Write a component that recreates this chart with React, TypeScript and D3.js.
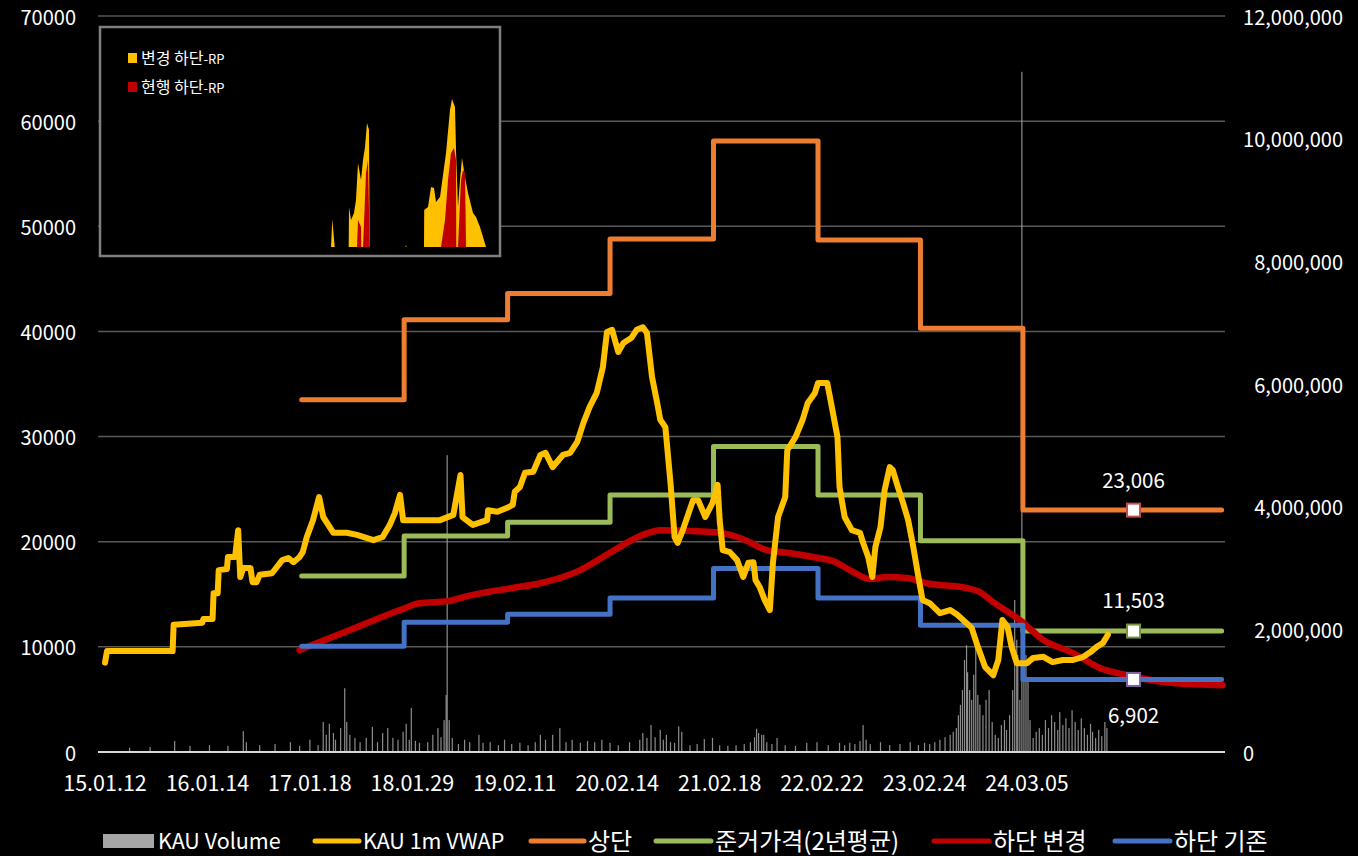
import React from "react";
import * as d3 from "d3";

const W = 1358;
const H = 856;

const xTickLabels = ["15.01.12", "16.01.14", "17.01.18", "18.01.29", "19.02.11", "20.02.14", "21.02.18", "22.02.22", "23.02.24", "24.03.05"];
const leftTicks = [0, 10000, 20000, 30000, 40000, 50000, 60000, 70000];
const rightTicks = [0, 2000000, 4000000, 6000000, 8000000, 10000000, 12000000];

// step series (change points in label-period units)
const stepTimes = [1.92, 2.92, 3.93, 4.93, 5.94, 6.96, 7.96, 8.96];
const stepEnd = 10.9;
const upperBand = [33500, 41100, 43600, 48800, 58100, 48700, 40300, 23006];
const refPrice = [16750, 20550, 21850, 24450, 29050, 24450, 20100, 11503];
const lowerBase = [10050, 12350, 13100, 14650, 17450, 14650, 12050, 6902];

const markerT = 10.04;

const lowerNew: [number, number][] = [
  [1.90, 9700], [2.39, 11600], [2.88, 13500], [3.07, 14150], [3.34, 14350], [3.59, 14950], [3.98, 15600],
  [4.25, 16050], [4.64, 17300], [4.93, 18950], [5.25, 20650], [5.42, 21100], [5.78, 21000], [5.97, 20900],
  [6.20, 20350], [6.46, 19200], [6.66, 18950], [6.91, 18550], [7.11, 18150], [7.27, 17300], [7.47, 16450],
  [7.63, 16650], [7.83, 16550], [8.02, 16050], [8.41, 15600], [8.54, 15200], [8.67, 14250], [8.93, 12550],
  [9.16, 10650], [9.45, 9400], [9.71, 8000], [9.98, 7300], [10.43, 6550], [10.91, 6350],
];

const vwap: [number, number][] = [
  [0.00, 8500], [0.02, 9600], [0.66, 9600], [0.67, 12100], [0.95, 12300], [0.96, 12650], [1.05, 12650],
  [1.06, 15100], [1.10, 15100], [1.11, 17300], [1.19, 17400], [1.20, 18550], [1.27, 18550], [1.30, 21100],
  [1.32, 16650], [1.35, 17500], [1.42, 17500], [1.44, 16150], [1.48, 16150], [1.51, 16850], [1.63, 17000],
  [1.73, 18250], [1.79, 18450], [1.84, 18050], [1.90, 18550], [1.93, 19000], [1.97, 20450], [2.03, 22050],
  [2.09, 24250], [2.13, 22350], [2.23, 20850], [2.36, 20850], [2.46, 20650], [2.62, 20150], [2.71, 20450],
  [2.78, 21600], [2.83, 22750], [2.88, 24450], [2.91, 22050], [3.01, 22050], [3.27, 22050], [3.40, 22550],
  [3.47, 26350], [3.49, 22350], [3.59, 21600], [3.73, 22050], [3.74, 23000], [3.83, 22850], [3.92, 23200],
  [3.98, 23500], [4.00, 24750], [4.05, 25200], [4.10, 26550], [4.18, 26650], [4.25, 28250], [4.30, 28450],
  [4.37, 27100], [4.47, 28250], [4.54, 28450], [4.61, 29500], [4.67, 31300], [4.73, 32800], [4.80, 34150],
  [4.86, 36600], [4.90, 39950], [4.95, 40150], [5.01, 38050], [5.06, 38900], [5.14, 39400], [5.19, 40150],
  [5.25, 40400], [5.29, 39850], [5.34, 35650], [5.39, 33200], [5.42, 31600], [5.47, 30900], [5.52, 25600],
  [5.56, 20450], [5.59, 19900], [5.64, 21100], [5.74, 23950], [5.79, 23950], [5.86, 22350], [5.93, 23700],
  [5.98, 25400], [6.00, 22050], [6.03, 19200], [6.10, 19000], [6.17, 18250], [6.23, 16650], [6.28, 18000],
  [6.33, 18050], [6.35, 16350], [6.39, 15700], [6.44, 14450], [6.49, 13500], [6.52, 18000], [6.57, 22350],
  [6.64, 24250], [6.66, 28700], [6.74, 29950], [6.81, 31600], [6.86, 33200], [6.93, 34150], [6.96, 35100],
  [7.05, 35100], [7.10, 32550], [7.15, 29950], [7.17, 25200], [7.22, 22350], [7.29, 21100], [7.37, 20850],
  [7.40, 19900], [7.45, 18550], [7.49, 16650], [7.52, 19500], [7.57, 21400], [7.61, 24900], [7.66, 27100],
  [7.69, 26800], [7.74, 25200], [7.79, 23700], [7.84, 22050], [7.89, 19500], [7.94, 16650], [7.98, 14450],
  [8.05, 14150], [8.15, 13200], [8.25, 13500], [8.32, 13050], [8.40, 12350], [8.46, 11800], [8.52, 10000],
  [8.59, 8100], [8.67, 7300], [8.72, 8750], [8.76, 12550], [8.81, 11900], [8.85, 10000], [8.90, 8450],
  [9.00, 8450], [9.06, 8950], [9.16, 9050], [9.25, 8550], [9.35, 8750], [9.45, 8750], [9.55, 9050],
  [9.62, 9500], [9.68, 10000], [9.74, 10350], [9.79, 11150],
];

// volume in millions
const volume: [number, number][] = [
  [0.24, 0.07], [0.44, 0.08], [0.68, 0.18], [0.83, 0.1], [1.02, 0.11], [1.2, 0.1], [1.35, 0.34], [1.38, 0.16],
  [1.51, 0.11], [1.66, 0.13], [1.81, 0.16], [1.9, 0.1], [2.0, 0.2], [2.08, 0.11], [2.13, 0.49], [2.16, 0.28],
  [2.19, 0.46], [2.23, 0.31], [2.25, 0.2], [2.30, 0.39], [2.34, 1.04], [2.36, 0.49], [2.39, 0.28], [2.44, 0.23],
  [2.49, 0.16], [2.55, 0.23], [2.61, 0.41], [2.66, 0.16], [2.71, 0.31], [2.76, 0.39], [2.81, 0.23], [2.86, 0.2],
  [2.91, 0.33], [2.94, 0.46], [2.97, 0.2], [2.99, 0.72], [3.03, 0.18], [3.07, 0.15], [3.15, 0.16], [3.20, 0.28],
  [3.25, 0.39], [3.28, 0.24], [3.31, 0.52], [3.33, 0.93], [3.34, 4.84], [3.36, 0.52], [3.39, 0.23], [3.45, 0.13],
  [3.51, 0.2], [3.56, 0.16], [3.65, 0.28], [3.69, 0.15], [3.76, 0.16], [3.84, 0.11], [3.90, 0.2], [3.97, 0.13],
  [4.05, 0.15], [4.13, 0.11], [4.20, 0.16], [4.25, 0.28], [4.30, 0.2], [4.37, 0.28], [4.44, 0.39], [4.50, 0.16],
  [4.56, 0.2], [4.64, 0.15], [4.71, 0.18], [4.78, 0.16], [4.85, 0.2], [4.93, 0.15], [5.01, 0.11], [5.12, 0.16],
  [5.22, 0.2], [5.25, 0.31], [5.29, 0.23], [5.33, 0.44], [5.37, 0.24], [5.42, 0.36], [5.45, 0.2], [5.48, 0.28],
  [5.52, 0.16], [5.56, 0.15], [5.60, 0.42], [5.63, 0.33], [5.71, 0.11], [5.78, 0.13], [5.85, 0.21], [5.93, 0.23],
  [6.00, 0.11], [6.08, 0.1], [6.16, 0.11], [6.24, 0.13], [6.30, 0.16], [6.34, 0.24], [6.36, 0.38], [6.38, 0.31],
  [6.41, 0.28], [6.43, 0.28], [6.46, 0.16], [6.51, 0.13], [6.56, 0.23], [6.64, 0.11], [6.74, 0.1], [6.85, 0.15],
  [6.95, 0.16], [7.06, 0.11], [7.17, 0.15], [7.22, 0.11], [7.27, 0.15], [7.32, 0.13], [7.37, 0.18], [7.40, 0.44],
  [7.43, 0.2], [7.47, 0.13], [7.57, 0.16], [7.66, 0.11], [7.76, 0.13], [7.86, 0.16], [7.94, 0.11], [8.00, 0.15],
  [8.05, 0.13], [8.10, 0.16], [8.15, 0.2], [8.20, 0.24], [8.25, 0.28], [8.28, 0.33], [8.31, 0.39], [8.33, 0.6],
  [8.35, 0.77], [8.37, 1.01], [8.39, 1.5], [8.41, 1.74], [8.42, 1.3], [8.44, 1.01], [8.46, 0.85], [8.48, 1.26],
  [8.50, 1.7], [8.52, 0.93], [8.54, 0.77], [8.57, 0.6], [8.60, 0.85], [8.63, 1.01], [8.66, 0.49], [8.69, 0.28],
  [8.72, 0.23], [8.75, 0.44], [8.78, 0.52], [8.80, 0.36], [8.83, 0.6], [8.86, 1.01], [8.88, 2.48], [8.90, 1.83],
  [8.91, 1.58], [8.93, 0.85], [8.95, 11.09], [8.97, 1.5], [8.99, 1.58], [9.01, 1.17], [9.03, 0.52], [9.06, 0.23],
  [9.09, 0.33], [9.12, 0.39], [9.15, 0.28], [9.18, 0.52], [9.21, 0.39], [9.24, 0.6], [9.27, 0.49], [9.30, 0.36],
  [9.32, 0.65], [9.35, 0.44], [9.38, 0.55], [9.41, 0.39], [9.44, 0.68], [9.47, 0.49], [9.50, 0.36], [9.53, 0.55],
  [9.56, 0.39], [9.59, 0.28], [9.62, 0.46], [9.64, 0.33], [9.67, 0.23], [9.70, 0.36], [9.73, 0.26], [9.76, 0.49],
  [9.78, 0.39],
];

// inset chart (변경 하단-RP / 현행 하단-RP)
const insetYellow: [number, number][] = [
  [229, 0], [231, 0], [232.3, 28], [234.7, 0], [248.7, 0], [249, 40], [251, 27], [254, 34], [256, 47], [258, 84],
  [261, 67], [263, 87], [265, 100], [267, 124], [269, 117], [269.7, 0], [305.5, 0], [306, 2], [306.5, 0],
  [324, 0], [324.2, 37], [328, 40], [331, 60], [334, 59], [336, 45], [340, 50], [343, 72], [346, 94], [350, 137],
  [352, 148], [355, 140], [356, 97], [358, 40], [360, 67], [362, 89], [365, 70], [368, 54], [373, 34], [376, 30],
  [380, 20], [383, 10], [386, 0],
];
const insetRed: [number, number][] = [
  [257, 0], [258, 27], [261, 20], [261.3, 0], [263, 0], [266, 74], [268, 87], [269.7, 0],
  [341, 0], [345, 27], [348, 67], [351, 94], [354, 99], [356, 87], [356.3, 0], [358, 0], [361, 67], [363, 77],
  [365, 74], [366, 0],
];

const FONT = "'Noto Sans CJK KR', 'Noto Sans', sans-serif";
const C_VOL = "#a6a6a6";
const C_VWAP = "#FFC000";
const C_UP = "#ED7D31";
const C_REF = "#9BBB59";
const C_NEW = "#C00000";
const C_BASE = "#4472C4";

export default function App() {
  const x = d3.scaleLinear().domain([0, 9]).range([105, 1027]);
  const yL = d3.scaleLinear().domain([0, 70000]).range([752, 16]);
  const yR = d3.scaleLinear().domain([0, 12000000]).range([752, 16]);
  const plotL = 98;
  const plotR = 1225;

  const stepLine = d3
    .line<[number, number]>()
    .x((d) => x(d[0]))
    .y((d) => yL(d[1]))
    .curve(d3.curveStepAfter);
  const stepPts = (vals: number[]): [number, number][] => [
    ...stepTimes.map((t, i) => [t, vals[i]] as [number, number]),
    [stepEnd, vals[vals.length - 1]],
  ];
  const smooth = d3
    .line<[number, number]>()
    .x((d) => x(d[0]))
    .y((d) => yL(d[1]))
    .curve(d3.curveMonotoneX);
  const lin = d3
    .line<[number, number]>()
    .x((d) => x(d[0]))
    .y((d) => yL(d[1]));

  const ix = d3.scaleLinear().domain([0, 400]).range([100, 500]);
  const iy = d3.scaleLinear().domain([0, 220]).range([247, 27]);
  const iArea = d3
    .area<[number, number]>()
    .x((d) => ix(d[0]))
    .y0(iy(0))
    .y1((d) => iy(d[1]));

  const last = (a: number[]) => a[a.length - 1];
  const markers = [
    { v: last(upperBand), stroke: "#C0504D", dy: -31 },
    { v: last(refPrice), stroke: "#77933C", dy: -32 },
    { v: last(lowerBase), stroke: "#8064A2", dy: 35 },
  ];

  const legend = [
    { kind: "rect", color: C_VOL, x0: 103, x1: 154, label: "KAU Volume", fs: 21.5 },
    { kind: "line", color: C_VWAP, x0: 315, x1: 359, label: "KAU 1m VWAP", fs: 21.5 },
    { kind: "line", color: C_UP, x0: 531, x1: 584, label: "상단", fs: 24 },
    { kind: "line", color: C_REF, x0: 656, x1: 711, label: "준거가격(2년평균)", fs: 24 },
    { kind: "line", color: C_NEW, x0: 934, x1: 989, label: "하단 변경", fs: 24 },
    { kind: "line", color: C_BASE, x0: 1115, x1: 1170, label: "하단 기존", fs: 24 },
  ];

  return (
    <svg
      width={W}
      height={H}
      style={{ position: "absolute", left: 0, top: 0, display: "block" }}
      fontFamily={FONT}
    >
      <rect x={0} y={0} width={W} height={H} fill="#000" />
      {/* gridlines */}
      {leftTicks.filter((t) => t > 0).map((t) => (
        <line key={t} x1={plotL} x2={plotR} y1={yL(t)} y2={yL(t)} stroke="#595959" strokeWidth={1.5} />
      ))}
      {/* volume */}
      {volume.map(([t, v], i) => (
        <rect key={i} x={x(t) - 0.6} width={1.2} y={yR(v * 1e6)} height={yR(0) - yR(v * 1e6)} fill={C_VOL} opacity={0.85} />
      ))}
      <line x1={plotL} x2={plotR} y1={yL(0)} y2={yL(0)} stroke="#d9d9d9" strokeWidth={2} />

      {/* lines */}
      <path d={stepLine(stepPts(upperBand)) || ""} fill="none" stroke={C_UP} strokeWidth={5} strokeLinecap="round" strokeLinejoin="round" />
      <path d={stepLine(stepPts(refPrice)) || ""} fill="none" stroke={C_REF} strokeWidth={5} strokeLinecap="round" strokeLinejoin="round" />
      <path d={smooth(lowerNew) || ""} fill="none" stroke={C_NEW} strokeWidth={6.5} strokeLinecap="round" strokeLinejoin="round" />
      <path d={stepLine(stepPts(lowerBase)) || ""} fill="none" stroke={C_BASE} strokeWidth={5} strokeLinecap="round" strokeLinejoin="round" />
      <path d={lin(vwap) || ""} fill="none" stroke={C_VWAP} strokeWidth={6} strokeLinecap="round" strokeLinejoin="round" />

      {/* markers + labels */}
      {markers.map((m, i) => (
        <g key={i}>
          <rect x={x(markerT) - 6.5} y={yL(m.v) - 6.5} width={13} height={13} fill="#fff" stroke={m.stroke} strokeWidth={2} />
          <text x={x(markerT)} y={yL(m.v) + m.dy} textAnchor="middle" dominantBaseline="central" fill="#fff" fontSize={20.5}>
            {d3.format(",")(m.v)}
          </text>
        </g>
      ))}

      {/* left axis */}
      {leftTicks.map((t) => (
        <text key={t} x={76} y={yL(t)} textAnchor="end" dominantBaseline="central" fill="#fff" fontSize={20}>
          {t}
        </text>
      ))}
      {/* right axis */}
      {rightTicks.map((t) => (
        <text
          key={t}
          x={t === 0 ? 1243 : 1343}
          y={yR(t)}
          textAnchor={t === 0 ? "start" : "end"}
          dominantBaseline="central"
          fill="#fff"
          fontSize={20}
        >
          {d3.format(",")(t)}
        </text>
      ))}
      {/* x axis labels */}
      {xTickLabels.map((l, i) => (
        <text key={l} x={x(i)} y={781} textAnchor="middle" dominantBaseline="central" fill="#fff" fontSize={21.5}>
          {l}
        </text>
      ))}

      {/* inset */}
      <rect x={100} y={27} width={400} height={229} fill="#000" stroke="#7f7f7f" strokeWidth={2.5} />
      <path d={iArea(insetYellow) || ""} fill={C_VWAP} />
      <path d={iArea(insetRed) || ""} fill={C_NEW} />
      <rect x={128} y={53} width={9} height={10} fill={C_VWAP} />
      <text x={141} y={64} fill="#fff" fontSize={16}>
        변경 하단<tspan fontSize={13}>-RP</tspan>
      </text>
      <rect x={128} y={82} width={9} height={10} fill={C_NEW} />
      <text x={141} y={93} fill="#fff" fontSize={16}>
        현행 하단<tspan fontSize={13}>-RP</tspan>
      </text>

      {/* legend */}
      {legend.map((it, i) => (
        <g key={i}>
          {it.kind === "rect" ? (
            <rect x={it.x0} y={834} width={it.x1 - it.x0} height={14} fill={it.color} />
          ) : (
            <line x1={it.x0} x2={it.x1} y1={841} y2={841} stroke={it.color} strokeWidth={5} strokeLinecap="round" />
          )}
          <text x={it.x1 + 4} y={839.5} dominantBaseline="central" fill="#fff" fontSize={it.fs}>
            {it.label}
          </text>
        </g>
      ))}
    </svg>
  );
}
